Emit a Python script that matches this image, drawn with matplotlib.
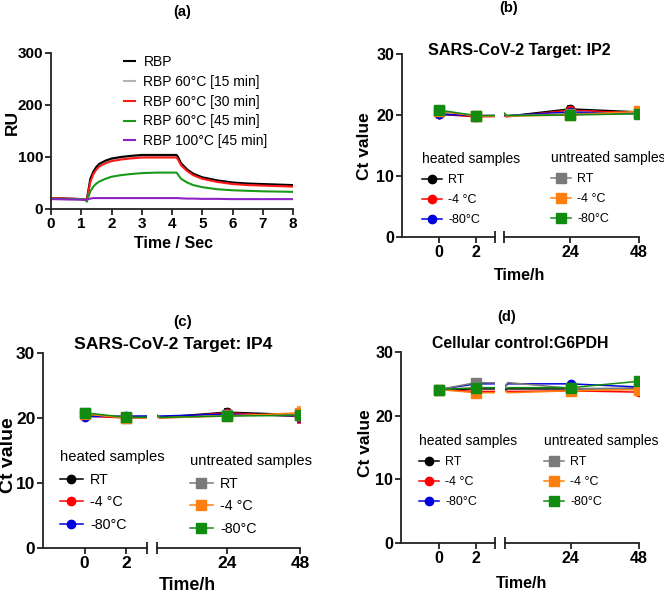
import numpy as np
import matplotlib
matplotlib.use("Agg")
import matplotlib.pyplot as plt
from matplotlib.lines import Line2D

plt.rcParams['font.family'] = ['Liberation Sans', 'DejaVu Sans']

# === Panel (a): sensorgram ===
sec = [0, 0.5, 1.0, 1.15, 1.18, 1.3, 1.4, 1.5, 1.6, 1.8, 2.0, 2.3, 2.6, 3.0, 3.5, 4.0, 4.15,
       4.2, 4.3, 4.5, 4.7, 5.0, 5.5, 6.0, 6.5, 7.0, 7.5, 8.0]
rbp = [21, 20, 19, 18, 16, 58, 72, 81, 87, 93, 97, 100, 102, 104, 104, 104, 104,
       100, 88, 76, 68, 61, 55, 51, 49, 48, 47, 46]
rbp_60_15 = [21, 20, 19, 18, 16, 56, 70, 79, 85, 91, 95, 98, 100, 102, 102, 102, 102,
             98, 86, 75, 67, 60, 54, 50, 48, 47, 46, 45]
rbp_60_30 = [21, 20, 19, 18, 15, 52, 67, 76, 82, 88, 92, 95, 97, 99, 99, 99, 99,
             95, 84, 73, 65, 58, 52, 48, 46, 45, 44, 43]
rbp_60_45 = [20, 19, 19, 18, 14, 34, 43, 49, 53, 58, 62, 65, 67, 69, 70, 70, 70,
             66, 58, 51, 46, 42, 38, 36, 35, 34, 33.5, 33]
rbp_100_45 = [19, 18.5, 18, 18, 18, 20, 21, 21, 21, 21, 21, 21, 21, 21, 21, 21, 21,
              21, 20.5, 20, 20, 19.5, 19.5, 19, 19, 19, 19, 19]
rbp_labels = ['RBP', 'RBP 60°C [15 min]', 'RBP 60°C [30 min]', 'RBP 60°C [45 min]',
              'RBP 100°C [45 min]']
rbp_colors = ['#000000', '#b4b4b4', '#ff1a1a', '#1a9a1a', '#8c22c4']

# === Panels (b)-(d): Ct values, rows = RT, -4 °C, -80°C ===
hours = np.array([0, 2, 24, 48])
heat_labels = ['RT', '-4 °C', '-80°C']
untr_labels = ['RT', '-4 °C', '-80°C']

ip2_heated = [[20.2, 19.8, 21.0, 20.5], [20.1, 19.7, 20.8, 20.3], [20.1, 19.9, 20.5, 20.2]]
ip2_untreated = [[20.6, 19.9, 20.2, 20.4], [20.7, 19.8, 20.0, 20.6], [20.8, 19.9, 20.0, 20.2]]
ip2_err = [0.2, 0.2, 0.4, 0.7]

ip4_heated = [[20.4, 20.1, 20.9, 20.5], [20.3, 20.0, 20.8, 20.2], [20.2, 20.3, 20.6, 20.3]]
ip4_untreated = [[20.7, 20.0, 20.4, 20.5], [20.6, 20.0, 20.3, 20.8], [20.8, 20.1, 20.3, 20.4]]
ip4_err = [0.2, 0.2, 0.5, 0.9]

g6_heated = [[24.1, 24.2, 24.2, 24.3], [24.1, 23.8, 23.9, 23.7], [24.1, 25.0, 25.0, 24.5]]
g6_untreated = [[24.1, 25.2, 24.3, 24.2], [24.1, 23.6, 23.9, 24.1], [24.1, 24.4, 24.4, 25.4]]
g6_err = [0.2, 0.4, 0.2, 0.3]

heat_colors = ['#000000', '#ff0000', '#0000dd']
untr_colors = ['#7a7a7a', '#ff7f0e', '#118c11']

W, H = 664, 594
fig = plt.figure(figsize=(W / 100, H / 100), dpi=100)


def box(l, t, r, b):
    return [l / W, 1 - b / H, (r - l) / W, (b - t) / H]


def ftext(x, y, s, **kw):
    kw.setdefault('ha', 'center')
    kw.setdefault('va', 'center')
    fig.text(x / W, 1 - y / H, s, **kw)


def style(ax, size=11):
    for side in ['top', 'right']:
        ax.spines[side].set_visible(False)
    for side in ['left', 'bottom']:
        ax.spines[side].set_linewidth(1.3)
        ax.spines[side].set_color('#222222')
    ax.tick_params(width=1.3, length=4, labelsize=size, color='#222222', pad=1.5)


def bold_ticks(ax):
    for lab in ax.get_xticklabels() + ax.get_yticklabels():
        lab.set_fontweight('bold')


# --- (a) ---
ax = fig.add_axes(box(51, 53, 293, 209))
curves = [rbp_60_15, rbp, rbp_60_30, rbp_60_45, rbp_100_45]
order = [1, 0, 2, 3, 4]
lines = {}
for vals, i in zip(curves, order):
    lines[i], = ax.plot(sec, vals, color=rbp_colors[i], lw=1.5)
ax.set_xlim(0, 8)
ax.set_ylim(0, 300)
ax.set_xticks(range(9))
ax.set_yticks([0, 100, 200, 300])
style(ax, 11)
bold_ticks(ax)
ax.legend([lines[i] for i in range(5)], rbp_labels, loc='upper left',
          bbox_to_anchor=((124 - 51) / 242, 1 - 2 / 156), frameon=False, fontsize=10,
          handlelength=0.8, handletextpad=0.6, labelspacing=0.42,
          borderpad=0, borderaxespad=0)
ftext(182, 12, '(a)', fontsize=10.5, fontweight='bold')
ftext(12, 122, 'RU', fontsize=12.5, fontweight='bold', rotation=90)
ftext(173, 244, 'Time / Sec', fontsize=11.5, fontweight='bold')


def ct_panel(l, bl, br, r, top, bottom, heated, untreated, err, leg_heat, leg_untr,
             tick_size=11.5, leg_size=9, title_size=10, spacing=0.65):
    axl = fig.add_axes(box(l, top, bl, bottom))
    axr = fig.add_axes(box(br, top, r, bottom))
    left_pts = hours <= 3
    sets = [(heated, heat_colors, 'o', 6), (untreated, untr_colors, 's', 6.5)]
    for rows, colors, mk, ms in sets:
        for vals, c in zip(rows, colors):
            vals = np.array(vals)
            e = np.array(err)
            for a, keep in ((axl, left_pts), (axr, ~left_pts)):
                a.plot(hours, vals, color=c, lw=1.1)
                a.errorbar(hours[keep], vals[keep], yerr=e[keep], fmt=mk, color=c,
                           ms=ms, capsize=2.5, elinewidth=1.1, capthick=1.1)
    for a in (axl, axr):
        a.set_ylim(0, 30)
        style(a, tick_size)
    axl.set_xlim(-2, 3)
    axr.set_xlim(1, 48)
    axl.set_xticks([0, 2])
    axr.set_xticks([24, 48])
    axl.set_yticks([0, 10, 20, 30])
    axr.spines['left'].set_visible(False)
    axr.set_yticks([])
    # break marks at the segment ends
    axl.set_xticks([3], minor=True)
    axr.set_xticks([1], minor=True)
    for a in (axl, axr):
        a.tick_params(axis='x', which='minor', direction='inout', length=9, width=1.3,
                      color='#222222')
        bold_ticks(a)

    h_handles = [Line2D([], [], color=c, marker='o', ms=6, lw=1.1) for c in heat_colors]
    u_handles = [Line2D([], [], color=c, marker='s', ms=6.5, lw=1.1) for c in untr_colors]
    common = dict(loc='upper left', frameon=False, fontsize=leg_size,
                  title_fontsize=title_size, alignment='left', handlelength=1.6,
                  handletextpad=0.5, labelspacing=spacing, borderpad=0, borderaxespad=0)
    fig.legend(h_handles, heat_labels, title='heated samples',
               bbox_to_anchor=(leg_heat[0] / W, 1 - leg_heat[1] / H), **common)
    fig.legend(u_handles, untr_labels, title='untreated samples',
               bbox_to_anchor=(leg_untr[0] / W, 1 - leg_untr[1] / H), **common)


# --- (b) ---
ct_panel(402, 495, 504, 639, 54, 237, ip2_heated, ip2_untreated, ip2_err,
         (422, 152), (551, 151))
ftext(509, 8, '(b)', fontsize=10.5, fontweight='bold')
ftext(519, 50, 'SARS-CoV-2 Target: IP2', fontsize=11.6, fontweight='bold')
ftext(364, 146, 'Ct value', fontsize=12.5, fontweight='bold', rotation=90)
ftext(520, 275, 'Time/h', fontsize=11.5, fontweight='bold')

# --- (c) ---
ct_panel(43, 147, 157, 300, 353, 548, ip4_heated, ip4_untreated, ip4_err,
         (60, 450), (190, 454), tick_size=12.5, leg_size=10.3, title_size=10.6,
         spacing=0.6)
ftext(183, 322, '(c)', fontsize=11, fontweight='bold')
ftext(173, 345, 'SARS-CoV-2 Target: IP4', fontsize=12.6, fontweight='bold')
ftext(9, 455, 'Ct value', fontsize=14, fontweight='bold', rotation=90)
ftext(187, 586, 'Time/h', fontsize=12.8, fontweight='bold')

# --- (d) ---
ct_panel(401, 495, 505, 639, 352, 543, g6_heated, g6_untreated, g6_err,
         (419, 434), (544, 434))
ftext(507, 317, '(d)', fontsize=10.5, fontweight='bold')
ftext(520, 343, 'Cellular control:G6PDH', fontsize=11.4, fontweight='bold')
ftext(366, 443, 'Ct value', fontsize=12.5, fontweight='bold', rotation=90)
ftext(522, 583, 'Time/h', fontsize=11.5, fontweight='bold')

fig.savefig('out.png', dpi=100)
